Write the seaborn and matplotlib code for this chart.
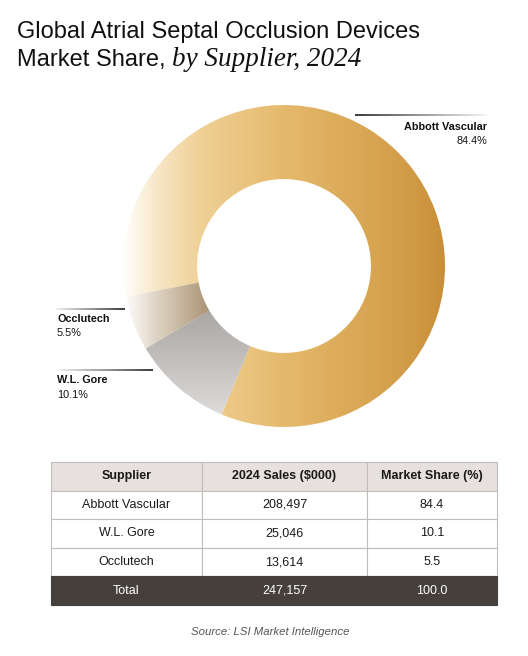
import numpy as np
import matplotlib
matplotlib.use('Agg')
import matplotlib.pyplot as plt
from matplotlib.colors import LinearSegmentedColormap
from matplotlib.collections import LineCollection
import seaborn as sns

# data
suppliers = ['Abbott Vascular', 'W.L. Gore', 'Occlutech']
sales = [208497, 25046, 13614]
shares = [84.4, 10.1, 5.5]
total_sales = 247157
total_share = 100.0
col_labels = ['Supplier', '2024 Sales ($000)', 'Market Share (%)']

W, H = 528, 656


def fx(px):
    return px / W


def fy(py):
    return 1 - py / H


def fade_line(fig, x0, x1, y, dark_left=True):
    """ horizontal leader line that fades out away from the donut """
    xs = np.linspace(fx(x0), fx(x1), 80)
    segs = [[(xs[i], fy(y)), (xs[i + 1], fy(y))] for i in range(len(xs) - 1)]
    cols = sns.blend_palette(['#2b2b2b', '#f2f2f2'], n_colors=len(segs))
    if not dark_left:
        cols = cols[::-1]
    fig.add_artist(LineCollection(segs, colors=cols, linewidths=1.3,
                                  transform=fig.transFigure))


sns.set_theme(style='white')
plt.rcParams['font.family'] = ['Liberation Sans', 'DejaVu Sans']

fig = plt.figure(figsize=(W / 100, H / 100), dpi=100)
fig.patch.set_facecolor('white')

# title
fig.text(fx(17), fy(38), 'Global Atrial Septal Occlusion Devices',
         size=17, color='#111111', va='baseline')
t2 = fig.text(fx(17), fy(66), 'Market Share,', size=17, color='#111111',
              va='baseline')
fig.canvas.draw()
bb = t2.get_window_extent()
fig.text(fx(bb.x1 + 6), fy(66), 'by Supplier, 2024', size=19.5,
         family='Liberation Serif', style='italic', color='#111111',
         va='baseline')

# donut
cx, cy, r = 284, 266, 161
ax = fig.add_axes([fx(cx - r), fy(cy + r), 2 * r / W, 2 * r / H])
wedges, _ = ax.pie(shares, startangle=191, counterclock=False, radius=1,
                   wedgeprops=dict(width=0.46, linewidth=0))

gold = LinearSegmentedColormap.from_list('gold', [
    (0.0, '#fffefb'), (0.12, '#f6e4c0'), (0.25, '#efcf93'),
    (0.5, '#e5b96c'), (0.85, '#d49f4b'), (1.0, '#c98f38')])
gray = LinearSegmentedColormap.from_list('gray', [
    (0.0, '#a7a4a2'), (0.5, '#c3c0be'), (1.0, '#e0dfde')])
tan = LinearSegmentedColormap.from_list('tan', [
    (0.0, '#ffffff'), (0.4, '#dcd0bf'), (1.0, '#a68e6d')])

ramp = np.linspace(0, 1, 256)
fills = [(gold, ramp[None, :], (-1, 1, -1, 1)),
         (gray, ramp[:, None], (-0.9, -0.15, -0.95, -0.25)),
         (tan, ramp[None, :], (-1, -0.44, -0.55, -0.1))]
for wedge, (cmap, grad, ext) in zip(wedges, fills):
    wedge.set_facecolor('none')
    im = ax.imshow(grad, cmap=cmap, extent=ext, aspect='auto',
                   interpolation='bilinear', zorder=1)
    im.set_clip_path(wedge)
ax.set_xlim(-1, 1)
ax.set_ylim(-1, 1)
ax.set_aspect('equal')
ax.axis('off')

# leader lines and labels
fade_line(fig, 355, 487, 115, dark_left=True)
fig.text(fx(487), fy(127), suppliers[0], size=7.8, weight='bold',
         ha='right', va='center', color='#111111')
fig.text(fx(487), fy(141), f'{shares[0]}%', size=7.8,
         ha='right', va='center', color='#111111')

fade_line(fig, 55, 125, 309, dark_left=False)
fig.text(fx(57), fy(319), suppliers[2], size=7.8, weight='bold',
         ha='left', va='center', color='#111111')
fig.text(fx(57), fy(333), f'{shares[2]}%', size=7.8,
         ha='left', va='center', color='#111111')

fade_line(fig, 57, 153, 370, dark_left=False)
fig.text(fx(57), fy(380), suppliers[1], size=7.8, weight='bold',
         ha='left', va='center', color='#111111')
fig.text(fx(57), fy(395), f'{shares[1]}%', size=7.8,
         ha='left', va='center', color='#111111')

# table
tax = fig.add_axes([0, 0, 1, 1])
tax.axis('off')
rows = [[s, f'{v:,}', f'{p:.1f}'] for s, v, p in zip(suppliers, sales, shares)]
rows.append(['Total', f'{total_sales:,}', f'{total_share:.1f}'])
left, right, top, bottom = 51, 497, 462, 605
tbl = tax.table(cellText=rows, colLabels=col_labels, cellLoc='center',
                colWidths=[151, 165, 130],
                bbox=[fx(left), fy(bottom), (right - left) / W, (bottom - top) / H])
tbl.auto_set_font_size(False)
n_rows = len(rows)
for (i, j), cell in tbl.get_celld().items():
    cell.set_edgecolor('#c2bdba')
    cell.set_linewidth(0.8)
    cell.get_text().set_fontsize(9)
    cell.get_text().set_color('#1a1a1a')
    if i == 0:
        cell.set_facecolor('#e6e0de')
        cell.get_text().set_weight('bold')
    elif i == n_rows:
        cell.set_facecolor('#45403c')
        cell.set_edgecolor('#45403c')
        cell.get_text().set_color('white')
    else:
        cell.set_facecolor('white')

fig.text(fx(270), fy(632), 'Source: LSI Market Intelligence', size=8.2,
         style='italic', color='#555555', ha='center', va='center')

fig.savefig('out.png', dpi=100, facecolor='white')
